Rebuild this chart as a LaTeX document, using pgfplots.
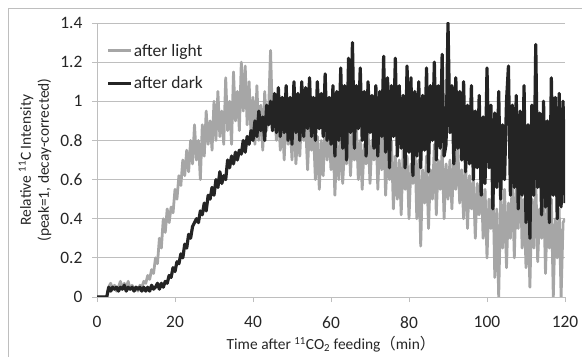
\documentclass[border=0pt]{standalone}
\usepackage{pgfplots}
\pgfplotsset{compat=1.18}
\usepackage{pgfplotstable}
\usepackage{fontspec}
\setmainfont{Carlito}
\newfontfamily\cjk{Noto Sans CJK JP}
\definecolor{lightser}{RGB}{166,166,166}
\definecolor{darkser}{RGB}{36,36,36}
\definecolor{gridc}{RGB}{190,190,190}
\pgfplotstableread{
t L D
0.0 0 0
0.5 0 0
1.0 0 0
1.5 0 0
2.0 0 0
2.5 0 0
3.0 0.05 0.05
3.5 0.07 0.03
4.0 0.04 0.05
4.5 0.06 0.04
5.0 0.03 0.05
5.5 0.05 0.03
6.0 0.08 0.05
6.5 0.04 0.04
7.0 0.07 0.06
7.5 0.05 0.03
8.0 0.08 0.05
8.5 0.04 0.04
9.0 0.06 0.05
9.5 0.04 0.03
10.0 0.05 0.05
10.5 0.03 0.04
11.0 0.06 0.05
11.5 0.05 0.03
12.0 0.08 0.05
12.5 0.07 0.03
13.0 0.11 0.05
13.5 0.09 0.03
14.0 0.14 0.06
14.5 0.12 0.04
15.0 0.20 0.05
15.5 0.17 0.07
16.0 0.30 0.04
16.5 0.25 0.07
17.0 0.40 0.05
17.5 0.33 0.08
18.0 0.45 0.07
18.5 0.38 0.11
19.0 0.46 0.10
19.5 0.43 0.15
20.0 0.55 0.13
20.5 0.50 0.18
21.0 0.62 0.17
21.5 0.57 0.22
22.0 0.70 0.20
22.5 0.62 0.27
23.0 0.75 0.25
23.5 0.64 0.32
24.0 0.80 0.30
24.5 0.68 0.36
25.0 0.88 0.38
25.5 0.70 0.40
26.0 0.80 0.38
26.5 0.60 0.44
27.0 0.88 0.42
27.5 0.72 0.48
28.0 0.95 0.44
28.5 0.78 0.52
29.0 0.90 0.50
29.5 0.75 0.56
30.0 1.00 0.52
30.5 0.80 0.60
31.0 1.05 0.56
31.5 0.82 0.64
32.0 0.95 0.58
32.5 0.78 0.62
33.0 1.12 0.60
33.5 0.85 0.70
34.0 1.00 0.66
34.5 0.78 0.72
35.0 1.15 0.68
35.5 0.90 0.74
36.0 1.05 0.70
36.5 0.85 0.75
37.0 1.20 0.73
37.5 0.95 0.80
38.0 1.18 0.74
38.5 0.88 0.82
39.0 1.10 0.78
39.5 0.82 0.85
40.0 1.02 0.80
40.5 0.78 0.90
41.0 1.08 0.82
41.5 0.80 0.95
42.0 0.98 0.85
42.5 0.75 0.92
43.0 1.05 0.80
43.5 0.85 0.98
44.0 0.95 0.88
44.5 1.26 1.00
45.0 0.90 0.85
45.5 1.00 1.04
46.0 0.80 0.84
46.5 0.95 1.07
47.0 0.75 0.82
47.5 0.92 1.02
48.0 0.70 0.84
48.5 0.98 1.08
49.0 0.78 0.80
49.5 0.90 1.02
50.0 0.70 0.78
50.5 0.95 1.10
51.0 0.68 0.84
51.5 0.85 1.04
52.0 0.72 0.80
52.5 0.95 1.10
53.0 0.80 0.82
53.5 0.88 1.07
54.0 0.65 0.86
54.5 0.90 1.12
55.0 0.75 0.82
55.5 0.85 1.02
56.0 0.60 0.80
56.5 0.82 1.10
57.0 0.55 0.86
57.5 0.80 1.04
58.0 0.62 0.82
58.5 0.90 1.14
59.0 0.70 0.80
59.5 0.85 1.02
60.0 0.65 0.78
60.5 0.82 1.08
61.0 0.52 0.72
61.5 0.80 1.05
62.0 0.60 0.80
62.5 0.85 1.17
63.0 0.58 0.76
63.5 0.78 1.08
64.0 0.68 0.70
64.5 0.90 1.22
65.0 0.62 0.84
65.5 0.85 1.30
66.0 0.70 0.76
66.5 0.88 1.08
67.0 0.60 0.86
67.5 0.80 1.17
68.0 0.55 0.80
68.5 0.78 1.05
69.0 0.68 0.72
69.5 0.85 1.10
70.0 0.58 0.84
70.5 0.80 1.03
71.0 0.70 0.76
71.5 0.92 1.08
72.0 0.55 0.72
72.5 0.82 1.05
73.0 0.65 0.82
73.5 0.88 1.23
74.0 0.52 0.74
74.5 0.75 1.12
75.0 0.60 0.66
75.5 0.80 1.08
76.0 0.45 0.82
76.5 0.72 1.22
77.0 0.50 0.72
77.5 0.70 1.08
78.0 0.42 0.76
78.5 0.75 1.03
79.0 0.55 0.66
79.5 0.72 1.18
80.0 0.40 0.74
80.5 0.68 1.12
81.0 0.58 0.62
81.5 0.80 1.05
82.0 0.40 0.72
82.5 0.70 1.10
83.0 0.26 0.66
83.5 0.65 1.03
84.0 0.48 0.75
84.5 0.72 1.17
85.0 0.35 0.64
85.5 0.65 1.08
86.0 0.50 0.80
86.5 0.78 1.20
87.0 0.42 0.70
87.5 0.70 1.08
88.0 0.55 0.76
88.5 0.75 1.24
89.0 0.40 0.72
89.5 0.68 0.78
90.0 0.50 1.40
90.5 0.70 0.84
91.0 0.45 1.08
91.5 0.72 0.68
92.0 0.55 1.12
92.5 0.78 0.76
93.0 0.48 1.05
93.5 0.65 0.70
94.0 0.40 1.10
94.5 0.70 0.64
95.0 0.35 0.98
95.5 0.62 0.68
96.0 0.45 1.08
96.5 0.60 0.60
97.0 0.30 0.95
97.5 0.58 0.66
98.0 0.42 1.03
98.5 0.65 0.52
99.0 0.30 0.92
99.5 0.55 0.58
100.0 0.20 1.17
100.5 0.50 0.66
101.0 0.35 0.98
101.5 0.60 0.45
102.0 0.10 0.94
102.5 0.45 0.56
103.0 0.00 1.05
103.5 0.50 0.50
104.0 0.25 0.88
104.5 0.55 0.60
105.0 0.15 1.00
105.5 0.48 1.18
106.0 0.30 0.52
106.5 0.62 0.98
107.0 0.20 0.56
107.5 0.55 1.03
108.0 0.35 0.45
108.5 0.70 0.95
109.0 0.25 0.52
109.5 0.50 1.08
110.0 0.15 0.38
110.5 0.45 0.88
111.0 0.05 0.30
111.5 0.50 0.98
112.0 0.25 0.52
112.5 0.60 1.29
113.0 0.18 0.56
113.5 0.45 0.94
114.0 0.30 0.42
114.5 0.55 1.00
115.0 0.12 0.46
115.5 0.48 0.90
116.0 0.25 0.38
116.5 0.50 1.12
117.0 0.00 0.52
117.5 0.40 1.02
118.0 0.20 0.40
118.5 0.45 1.04
119.0 0.00 0.46
119.5 0.38 1.00
120.0 0.40 0.48
}\data
\begin{document}
\begin{tikzpicture}
\path[use as bounding box] (0,0) rectangle (582bp,357bp);
\draw[gridc, line width=0.8bp] (8bp,-5bp) -- (8bp,349bp) -- (590bp,349bp);
\begin{axis}[
  at={(97bp,60bp)}, anchor=south west,
  scale only axis, width=468bp, height=274bp,
  xmin=0, xmax=120, ymin=0, ymax=1.4,
  xtick={0,20,40,60,80,100,120},
  ytick={0,0.2,0.4,0.6,0.8,1,1.2,1.4},
  axis lines*=left,
  axis line style={gridc, line width=0.8bp},
  tick style={gridc, line width=0.8bp},
  tick align=outside, major tick length=5bp,
  ymajorgrids, grid style={gridc, line width=0.8bp},
  /pgf/number format/assume math mode=true,
  tick label style={font=\fontsize{17.5}{20}\selectfont, text=black!85},
  xticklabel style={yshift=-11bp},
  yticklabel style={xshift=-6bp},
  label style={font=\fontsize{15.5}{18}\selectfont, text=black!85},
  xlabel={Time after \textsuperscript{11}CO\textsubscript{2} feeding{\cjk（}min{\cjk）}},
  xlabel style={at={(axis description cs:0.5,0)}, anchor=center, yshift=-47bp},
  ylabel={Relative \textsuperscript{11}C Intensity\\(peak=1, decay-corrected)},
  ylabel style={at={(axis description cs:-0.1325,0.5)}, anchor=center, align=center},
  legend style={at={(0.018,0.935)}, anchor=north west, draw=none, fill=none,
    font=\fontsize{17.5}{20}\selectfont, text=black!85, row sep=15bp,
    inner sep=1bp, nodes={inner xsep=1bp}},
  legend cell align=left,
  legend image code/.code={\draw[#1] (0bp,0bp) -- (23bp,0bp);},
  every axis plot/.append style={line join=round},
]
\addplot[lightser, line width=2.8bp] table[x=t, y=L] {\data};
\addlegendentry{after light}
\addplot[darkser, line width=3.2bp] table[x=t, y=D] {\data};
\addlegendentry{after dark}
\end{axis}
\end{tikzpicture}
\end{document}
